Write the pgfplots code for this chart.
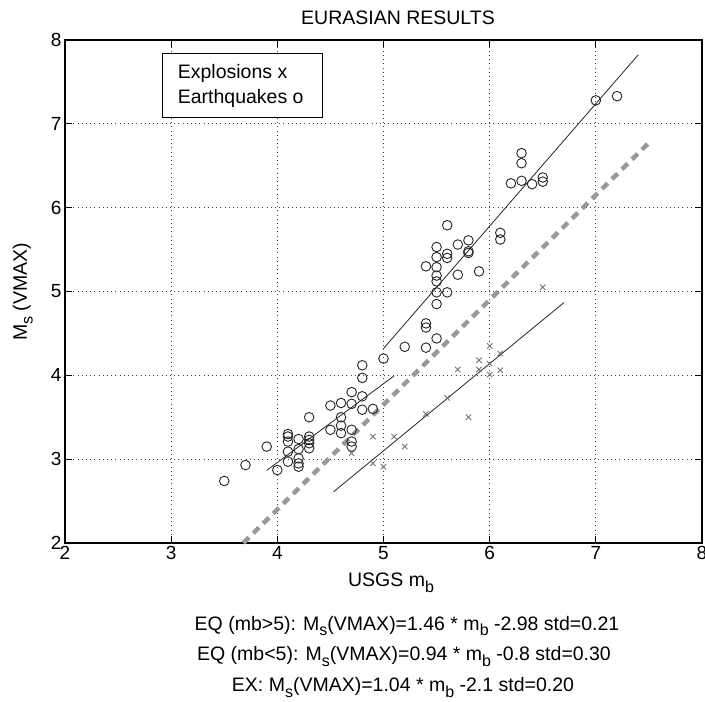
\documentclass[border=0pt]{standalone}
\usepackage{fontspec}
\setmainfont{Liberation Sans}
\usepackage{pgfplots}
\pgfplotsset{compat=1.18}
% MATLAB-like lowered subscript
\newcommand{\sub}[1]{\raisebox{-0.55ex}{\fontsize{16}{16}\selectfont #1}}

\begin{document}
\begin{tikzpicture}
\useasboundingbox (-65pt,-159pt) rectangle (640pt,543pt);
\begin{axis}[
  scale only axis, width=637pt, height=503pt,
  xmin=2, xmax=8, ymin=2, ymax=8,
  xtick={2,...,8}, ytick={2,...,8},
  tick pos=both, tick align=inside, major tick length=7pt,
  grid=major,
  grid style={black!75, line width=0.7pt, dash pattern=on 0.8pt off 3.4pt},
  axis line style={black, line width=1.1pt},
  tick style={black, line width=0.9pt},
  ticklabel style={font=\fontsize{19}{20}\selectfont},
  /pgf/number format/assume math mode=true,
  clip=false,
]
% earthquakes
\addplot[only marks, mark=o, mark size=4.8pt, black!85, mark options={line width=0.9pt}]
  coordinates {
  (3.5,2.74)(3.7,2.93)(3.9,3.15)(4.0,2.87)
  (4.1,3.30)(4.1,3.27)(4.1,3.21)(4.1,3.09)(4.1,2.97)
  (4.2,3.24)(4.2,3.12)(4.2,3.01)(4.2,2.95)(4.2,2.91)
  (4.3,3.50)(4.3,3.27)(4.3,3.23)(4.3,3.19)(4.3,3.13)
  (4.5,3.64)(4.5,3.35)
  (4.6,3.67)(4.6,3.50)(4.6,3.40)(4.6,3.31)
  (4.7,3.80)(4.7,3.66)(4.7,3.35)(4.7,3.21)(4.7,3.15)
  (4.8,4.12)(4.8,3.97)(4.8,3.75)(4.8,3.59)
  (4.9,3.60)
  (5.0,4.20)(5.2,4.34)(5.4,4.33)(5.4,4.62)(5.4,4.57)(5.4,5.30)
  (5.5,4.44)(5.5,4.85)(5.5,4.99)(5.5,5.12)(5.5,5.19)(5.5,5.29)(5.5,5.41)(5.5,5.53)
  (5.6,4.99)(5.6,5.40)(5.6,5.45)(5.6,5.79)
  (5.7,5.20)(5.7,5.56)
  (5.8,5.61)(5.8,5.48)(5.8,5.46)
  (5.9,5.24)
  (6.1,5.70)(6.1,5.62)
  (6.2,6.29)(6.3,6.65)(6.3,6.53)(6.3,6.32)(6.4,6.28)(6.5,6.36)(6.5,6.31)
  (7.0,7.28)(7.2,7.33)
  };
% explosions
\addplot[only marks, mark=x, mark size=3.8pt, black!55, mark options={line width=0.9pt}]
  coordinates {
  (4.7,3.07)(4.9,3.27)(4.9,2.95)(5.0,2.91)(5.1,3.27)(5.2,3.15)(5.4,3.54)
  (5.6,3.73)(5.7,4.07)(5.8,3.50)(5.9,4.18)(5.9,4.07)(6.0,4.35)(6.0,4.14)
  (6.0,4.01)(6.1,4.26)(6.1,4.06)(6.5,5.05)
  };
% fitted lines
\addplot[black!85, line width=0.8pt] coordinates {(5.0,4.32)(7.4,7.824)};
\addplot[black!85, line width=0.8pt] coordinates {(3.9,2.866)(5.1,3.994)};
\addplot[black!85, line width=0.8pt] coordinates {(4.53,2.611)(6.7,4.868)};
% discriminant
\addplot[black!40, line width=4.5pt, dash pattern=on 8pt off 6pt]
  coordinates {(3.68,2.0)(7.5,6.775)};
% text box
\draw[black, line width=0.8pt, fill=white] (axis cs:2.916,7.073) rectangle (axis cs:4.42,7.842);
\node[anchor=base west, inner sep=0pt, font=\fontsize{19.5}{20}\selectfont]
  at (axis cs:3.061,7.543) {Explosions x};
\node[anchor=base west, inner sep=0pt, font=\fontsize{19.5}{20}\selectfont]
  at (axis cs:3.061,7.237) {Earthquakes o};
\end{axis}
\begin{scope}[every node/.style={inner sep=0pt, font=\fontsize{19.5}{20}\selectfont}]
\node[anchor=base] at (333pt,518pt) {EURASIAN RESULTS};
\node[anchor=base] at (326pt,-44pt) {USGS m\sub{b}};
\node[anchor=base] at (342pt,-87pt) {EQ (mb>5): M\sub{s}(VMAX)=1.46 * m\sub{b} -2.98 std=0.21};
\node[anchor=base] at (339pt,-117.7pt) {EQ (mb<5): M\sub{s}(VMAX)=0.94 * m\sub{b} -0.8 std=0.30};
\node[anchor=base] at (338pt,-148.7pt) {EX: M\sub{s}(VMAX)=1.04 * m\sub{b} -2.1 std=0.20};
\node[anchor=base, rotate=90] at (-38pt,251pt) {M\sub{s} (VMAX)};
\end{scope}
\end{tikzpicture}
\end{document}
